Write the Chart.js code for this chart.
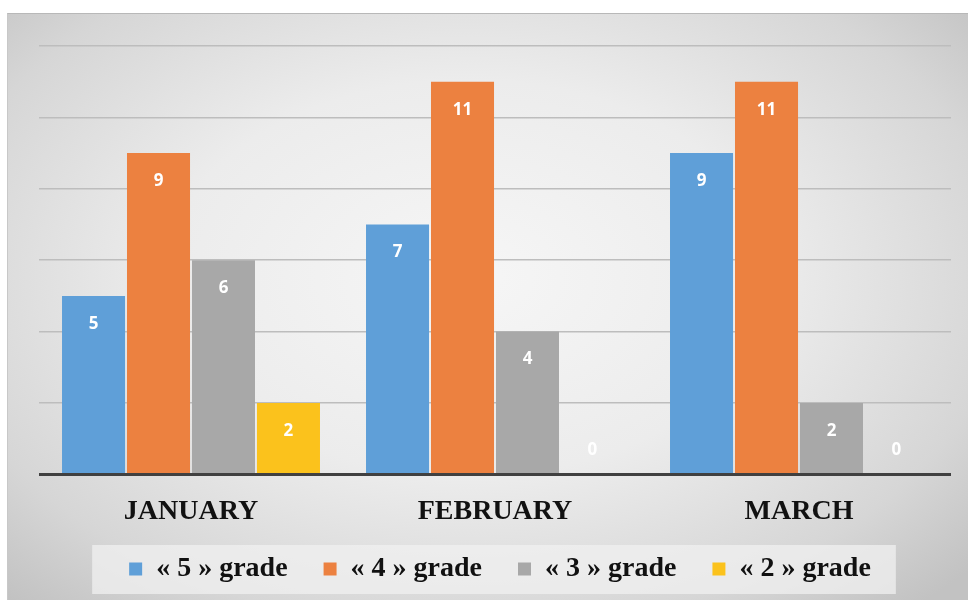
<!DOCTYPE html>
<html>
<head>
<meta charset="utf-8">
<script src="https://cdn.jsdelivr.net/npm/chart.js@4/dist/chart.umd.min.js"></script>
<style>
  html, body { margin: 0; padding: 0; background: #fff; }
  #wrap {
    position: absolute; left: 7px; top: 13px; width: 961px; height: 587px;
    border-top: 1px solid #b8b8b8; border-left: 1px solid #c8c8c8;
    box-sizing: border-box;
    background: radial-gradient(ellipse 70% 75% at 48% 45%, #f6f6f6 0%, #ececec 45%, #d6d6d6 80%, #c2c2c2 100%);
  }
</style>
</head>
<body>
<div id="wrap"><canvas id="grades"></canvas></div>
<script>
const months = ["JANUARY", "FEBRUARY", "MARCH"];
const grade5 = [5, 7, 9];
const grade4 = [9, 11, 11];
const grade3 = [6, 4, 2];
const grade2 = [2, 0, 0];

// white numbers inside the top of each bar
const barLabels = {
  id: "barLabels",
  afterDatasetsDraw(chart) {
    const ctx = chart.ctx;
    ctx.save();
    ctx.font = "bold 17px 'Open Sans'";
    ctx.fillStyle = "#ffffff";
    ctx.textAlign = "center";
    ctx.textBaseline = "middle";
    chart.data.datasets.forEach(function (ds, i) {
      chart.getDatasetMeta(i).data.forEach(function (bar, j) {
        const v = ds.data[j];
        const y = v === 0 ? bar.base - 24 : bar.y + 28;
        ctx.fillText(String(v), bar.x, y);
      });
    });
    ctx.restore();
  },
};

// pull the legend up (its padding is large for the horizontal spacing)
// and paint the light box behind it
const legendBox = {
  id: "legendBox",
  afterLayout(chart) {
    const lg = chart.legend;
    lg.top -= 31;
    lg.bottom -= 31;
    lg.left += 5;
    lg.right += 5;
  },
  beforeDraw(chart) {
    const lg = chart.legend;
    if (!lg || !lg.legendHitBoxes.length) return;
    const first = lg.legendHitBoxes[0];
    const last = lg.legendHitBoxes[lg.legendHitBoxes.length - 1];
    const ctx = chart.ctx;
    ctx.save();
    ctx.fillStyle = "rgba(240,240,240,0.75)";
    ctx.fillRect(first.left - 37, first.top - 10, last.left + last.width - first.left + 62, 49);
    ctx.restore();
  },
};

new Chart(document.getElementById("grades"), {
  type: "bar",
  plugins: [legendBox, barLabels],
  data: {
    labels: months,
    datasets: [
      { label: "« 5 » grade", data: grade5, backgroundColor: "#5f9fd8" },
      { label: "« 4 » grade", data: grade4, backgroundColor: "#ec8140" },
      { label: "« 3 » grade", data: grade3, backgroundColor: "#a8a8a8" },
      { label: "« 2 » grade", data: grade2, backgroundColor: "#fbc21c" },
    ],
  },
  options: {
    responsive: true,
    maintainAspectRatio: false,
    animation: false,
    datasets: {
      bar: { categoryPercentage: 0.855, barPercentage: 0.97, borderWidth: 0 },
    },
    layout: { padding: { left: 31, right: 17, top: 32, bottom: -24 } },
    scales: {
      x: {
        grid: { display: false, drawTicks: false },
        border: { display: false },
        ticks: {
          padding: 21,
          color: "#111",
          font: { family: "'Liberation Serif'", size: 28, weight: "bold" },
        },
      },
      y: {
        min: 0,
        max: 12,
        ticks: { stepSize: 2, display: false },
        border: { display: false },
        grid: {
          drawTicks: false,
          color: function (c) {
            return c.tick.value === 0 ? "#404040" : "#bdbdbd";
          },
          lineWidth: function (c) {
            return c.tick.value === 0 ? 3 : 1.5;
          },
        },
      },
    },
    plugins: {
      tooltip: { enabled: false },
      legend: {
        display: true,
        position: "bottom",
        labels: {
          boxWidth: 13,
          boxHeight: 13,
          padding: 36,
          color: "#111",
          font: { family: "'Liberation Serif'", size: 28, weight: "bold" },
        },
      },
    },
  },
});
</script>
</body>
</html>
